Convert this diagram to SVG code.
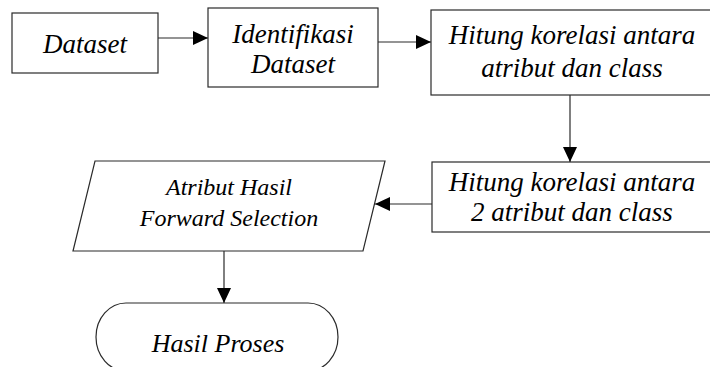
<svg xmlns="http://www.w3.org/2000/svg" width="710" height="367" viewBox="0 0 710 367">
<style>
.box{fill:#fff;stroke:#2a2a2a;stroke-width:1.2}
.lbl{font-family:'Liberation Serif',serif;font-style:italic;fill:#000;text-anchor:middle}
.big{font-size:27px}
.mid{font-size:26px}
.sm{font-size:24px}
.conn{stroke:#2a2a2a;stroke-width:1.2;fill:none;marker-end:url(#ah)}
</style>
<defs>
<marker id="ah" markerUnits="userSpaceOnUse" markerWidth="16" markerHeight="14" refX="15" refY="7" orient="auto">
<path d="M0,0 L15,7 L0,14 z" fill="#000"/>
</marker>
</defs>
<rect width="710" height="367" fill="#fff"/>
<g id="connectors">
<line class="conn" x1="158" y1="38" x2="208" y2="38"/>
<line class="conn" x1="378" y1="42" x2="431" y2="42"/>
<line class="conn" x1="570" y1="95" x2="570" y2="162"/>
<line class="conn" x1="432" y1="204" x2="375" y2="204"/>
<line class="conn" x1="224" y1="251" x2="224" y2="303"/>
</g>
<g id="n-dataset">
<rect class="box" x="12" y="13" width="146" height="60"/>
<text class="lbl big" x="85" y="53">Dataset</text>
</g>
<g id="n-identifikasi">
<rect class="box" x="208" y="8" width="170" height="79"/>
<text class="lbl big" x="293" y="43">Identifikasi</text>
<text class="lbl big" x="293" y="73">Dataset</text>
</g>
<g id="n-hitung1">
<rect class="box" x="431" y="10" width="285" height="85"/>
<text class="lbl big" x="572" y="44">Hitung korelasi antara</text>
<text class="lbl big" x="572" y="77">atribut dan class</text>
</g>
<g id="n-hitung2">
<rect class="box" x="432" y="162" width="284" height="70"/>
<text class="lbl big" x="572" y="191">Hitung korelasi antara</text>
<text class="lbl big" x="572" y="221">2 atribut dan class</text>
</g>
<g id="n-atribut">
<polygon class="box" points="95,161 385,161 363,251 73,251"/>
<text class="lbl sm" x="229" y="195">Atribut Hasil</text>
<text class="lbl sm" x="229" y="226">Forward Selection</text>
</g>
<g id="n-hasil">
<rect class="box" x="96" y="303" width="242" height="68" rx="30" ry="34"/>
<text class="lbl mid" x="218" y="352">Hasil Proses</text>
</g>
</svg>
